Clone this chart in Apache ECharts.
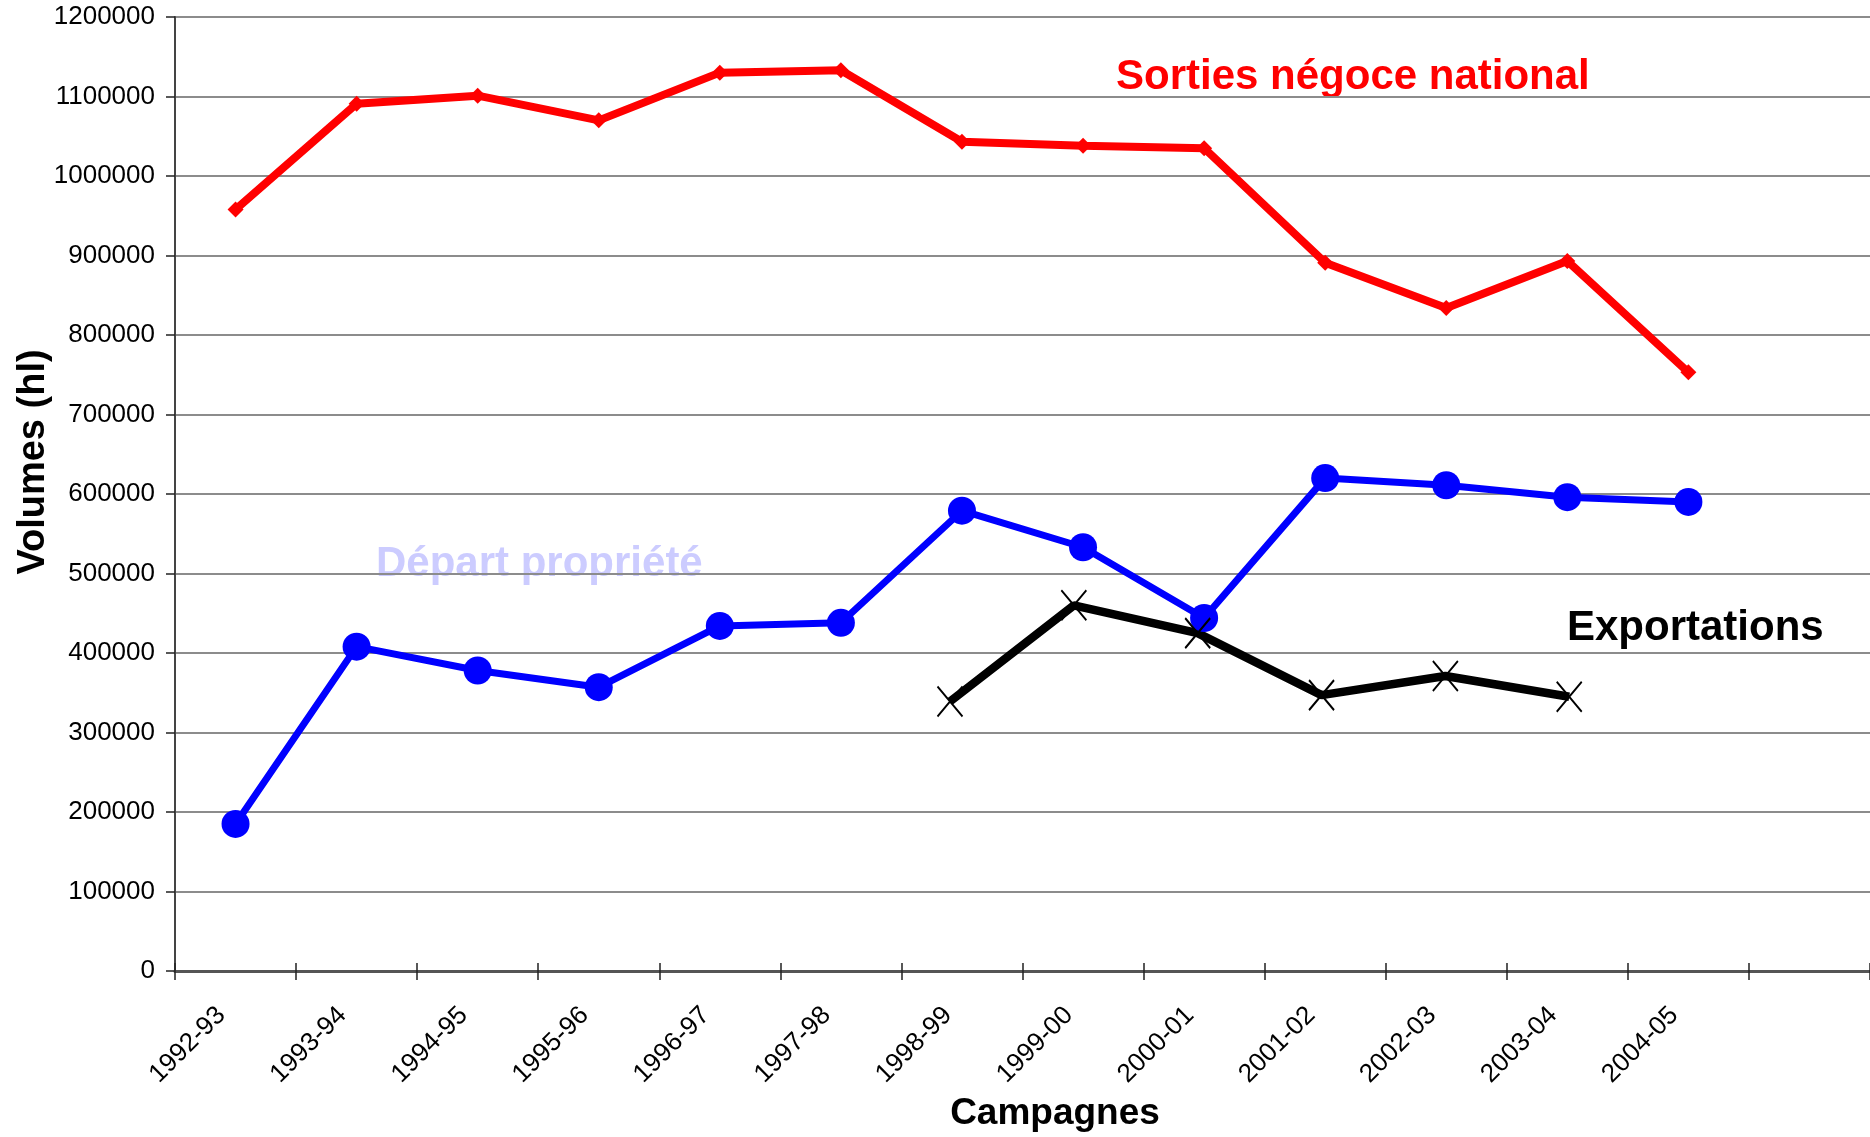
<!DOCTYPE html>
<html>
<head>
<meta charset="utf-8">
<title>Volumes par campagne</title>
<script src="https://cdn.jsdelivr.net/npm/echarts@6/dist/echarts.min.js"></script>
<style>
    html, body { margin: 0; padding: 0; background: #fff; }
    #box { width: 1870px; height: 1137px; }
</style>
</head>
<body>
<div id="box"></div>
<script>
// campagnes (axe des x)
var campagnes = ['1992-93', '1993-94', '1994-95', '1995-96', '1996-97', '1997-98', '1998-99',
    '1999-00', '2000-01', '2001-02', '2002-03', '2003-04', '2004-05'];

// volumes en hl
var sortiesNegoce = [958000, 1091000, 1101000, 1070000, 1130000, 1133000, 1043000,
    1038000, 1035000, 891000, 834000, 893000, 753000];
var departPropriete = [185000, 408000, 378000, 357000, 434000, 438000, 579000,
    533000, 444000, 620000, 611000, 596000, 590000];
var exportations = [null, null, null, null, null, null, 339000,
    460000, 425000, 347000, 371000, 345000, null];

var yTicks = { min: 0, max: 1200000, interval: 100000 };

var myChart = echarts.init(document.getElementById('box'));
var font = '"Liberation Sans", Arial, sans-serif';

// une case vide en bout d'axe, comme sur l'original
var xData = campagnes.concat(['']);

myChart.setOption({
    animation: false,
    textStyle: { fontFamily: font },
    grid: [
        { left: 175, top: 17, width: 1700, bottom: 166 },
        // grille cachée pour la série exportations (axe secondaire)
        { left: 145, top: 17, width: 1610, bottom: 166, show: false }
    ],
    xAxis: [{
            gridIndex: 0,
            type: 'category',
            data: xData,
            boundaryGap: true,
            axisLine: { lineStyle: { color: '#555', width: 3 } },
            axisTick: { show: true, interval: 0, length: 9, lineStyle: { color: '#222', width: 1.5 } },
            axisLabel: {
                interval: 0,
                rotate: 45,
                margin: 26,
                padding: [0, 20, 0, 0],
                fontSize: 26,
                color: '#000',
                fontFamily: font
            },
            splitLine: { show: false }
        },
        {
            // partie intérieure des graduations
            gridIndex: 0,
            type: 'category',
            data: xData,
            position: 'bottom',
            axisLine: { show: false },
            axisTick: { show: true, inside: true, interval: 0, length: 8, lineStyle: { color: '#222', width: 1.5 } },
            axisLabel: { show: false },
            splitLine: { show: false }
        },
        {
            gridIndex: 1,
            type: 'category',
            data: campagnes,
            show: false
        }
    ],
    yAxis: [{
            gridIndex: 0,
            type: 'value',
            min: yTicks.min,
            max: yTicks.max,
            interval: yTicks.interval,
            axisLine: { show: true, lineStyle: { color: '#444', width: 2 } },
            axisTick: { show: true, length: 9, lineStyle: { color: '#222', width: 1.5 } },
            axisLabel: {
                fontSize: 26,
                color: '#000',
                margin: 20,
                fontFamily: font,
                formatter: function (v) { return String(v); }
            },
            splitLine: { show: true, lineStyle: { color: '#8c8c8c', width: 2 } }
        },
        {
            gridIndex: 1,
            type: 'value',
            min: yTicks.min,
            max: yTicks.max,
            show: false,
            splitLine: { show: false }
        }
    ],
    series: [{
            name: 'Sorties négoce national',
            type: 'line',
            xAxisIndex: 0,
            yAxisIndex: 0,
            data: sortiesNegoce,
            symbol: 'diamond',
            symbolSize: 16,
            lineStyle: { color: '#FF0000', width: 8 },
            itemStyle: { color: '#FF0000' }
        },
        {
            name: 'Départ propriété',
            type: 'line',
            xAxisIndex: 0,
            yAxisIndex: 0,
            data: departPropriete,
            symbol: 'circle',
            symbolSize: 28,
            lineStyle: { color: '#0000FF', width: 7 },
            itemStyle: { color: '#0000FF' }
        },
        {
            name: 'Exportations',
            type: 'line',
            xAxisIndex: 2,
            yAxisIndex: 1,
            data: exportations,
            symbol: 'path://M0,0L10,12M10,0L0,12',
            symbolSize: [25, 30],
            symbolKeepAspect: false,
            lineStyle: { color: '#000', width: 8.5 },
            itemStyle: { color: '#000', borderColor: '#000', borderWidth: 2 }
        }
    ],
    graphic: [{
            type: 'text',
            left: 1116,
            top: 56,
            style: { text: 'Sorties négoce national', font: 'bold 42px ' + font, fill: '#FF0000' }
        },
        {
            type: 'text',
            left: 376,
            top: 543,
            style: { text: 'Départ propriété', font: 'bold 42px ' + font, fill: '#CCCCFF' }
        },
        {
            type: 'text',
            left: 1567,
            top: 607,
            style: { text: 'Exportations', font: 'bold 42px ' + font, fill: '#000' }
        },
        {
            type: 'text',
            x: 1055,
            y: 1114,
            style: { text: 'Campagnes', font: 'bold 37px ' + font, fill: '#000', align: 'center', verticalAlign: 'middle' }
        },
        {
            type: 'text',
            x: 34,
            y: 462,
            rotation: Math.PI / 2,
            style: { text: 'Volumes (hl)', font: 'bold 38px ' + font, fill: '#000', align: 'center', verticalAlign: 'middle' }
        }
    ]
});
</script>
</body>
</html>
